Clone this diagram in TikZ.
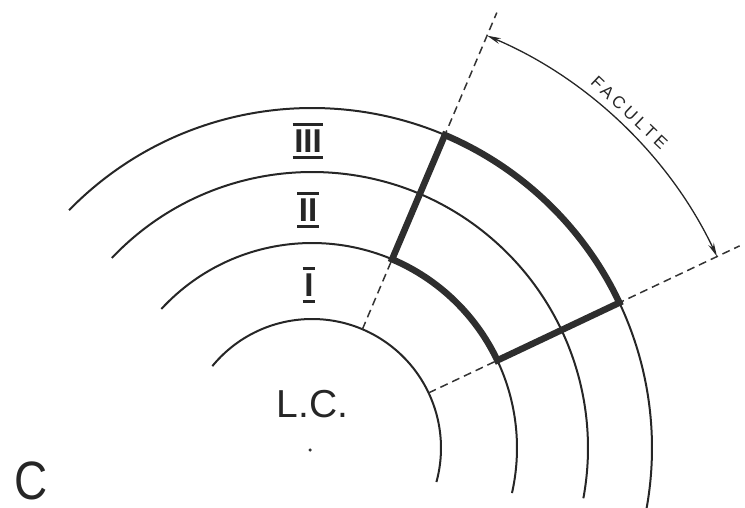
\documentclass[tikz,border=0pt]{standalone}
\usepackage{fontspec}
\setmainfont{Liberation Sans}
\usetikzlibrary{arrows.meta}
\begin{document}
\begin{tikzpicture}[x=1pt,y=1pt,
  ring/.style={line width=2pt, draw=black!85},
  radial/.style={line width=1.5pt, draw=black!80, dash pattern=on 8pt off 5pt},
  facbox/.style={line width=6.5pt, draw=black!82, line join=miter},
  dimline/.style={line width=1.3pt, draw=black!85, {Stealth[length=14pt,width=6pt]}-{Stealth[length=14pt,width=6pt]}},
  numeral/.style={font=\fontsize{33}{33}\selectfont\bfseries, text=black!85, text height=23.6pt, text depth=0pt, inner xsep=1.5pt, inner ysep=4.2pt},
  bar/.style={line width=3.2pt, draw=black!85},
  lbl/.style={text=black!85, inner sep=0pt, anchor=base}]
\useasboundingbox (0,0) rectangle (745,507);
\coordinate (O) at (312,59);
\begin{scope}[shift={(O)}]
  % rings
  \draw[ring] (140.6:129pt) arc[start angle=140.6, end angle=-15.3, radius=129pt];
  \draw[ring] (137.3:205pt) arc[start angle=137.3, end angle=-12.7, radius=205pt];
  \draw[ring] (136.5:276pt) arc[start angle=136.5, end angle=-10.5, radius=276pt];
  \draw[ring] (135.6:340pt) arc[start angle=135.6, end angle=-10.5, radius=340pt];
  % radial dashed lines
  \coordinate (ua) at (67:129pt);
  \coordinate (ub) at (67:473pt);
  \coordinate (la) at (25.3:129pt);
  \coordinate (lb) at (25.3:473pt);
  \draw[radial] (ua) -- (ub);
  \draw[radial] (la) -- (lb);
  % faculty sector
  \draw[facbox] (67:205pt) -- (67:340pt) arc[start angle=67, end angle=25.3, radius=340pt]
     -- (25.3:205pt) arc[start angle=25.3, end angle=67, radius=205pt] -- cycle;
  % dimension arc
  \coordinate (d1) at (67:448pt);
  \draw[dimline] (d1) arc[start angle=67, end angle=25.3, radius=448pt];
  \node[rotate=-43.4, text=black!85, inner sep=0pt,
        font=\fontsize{17}{17}\selectfont\addfontfeature{LetterSpace=22}] (fac) at (46.6:462pt) {FACULTE};
\end{scope}
% numerals
\node[numeral] (n3) at (308,366) {III};
\node[numeral] (n2) at (308,297) {II};
\node[numeral] (n1) at (309,222) {I};
\foreach \n in {n1,n2,n3}{
  \draw[bar] (\n.north west) -- (\n.north east);
  \draw[bar] (\n.south west) -- (\n.south east);
}
% labels
\node[lbl, font=\fontsize{39}{39}\selectfont] (lc) at (312.5,90) {L.C.};
\node[circle, fill=black!80, inner sep=0pt, minimum size=3.5pt] (lcdot) at (310,57) {};
\node[lbl, font=\fontsize{54}{54}\selectfont, xscale=0.85] (cc) at (31,8) {C};
\end{tikzpicture}
\end{document}
